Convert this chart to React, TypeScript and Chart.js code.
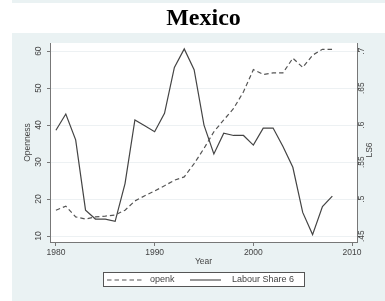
import React, { useEffect, useRef } from "react";
import { Chart, registerables } from "chart.js";

Chart.register(...registerables);

const years = [1980, 1981, 1982, 1983, 1984, 1985, 1986, 1987, 1988, 1989, 1990, 1991, 1992, 1993, 1994, 1995, 1996, 1997, 1998, 1999, 2000, 2001, 2002, 2003, 2004, 2005, 2006, 2007, 2008];
const openk = [17.0, 18.1, 15.2, 14.6, 15.2, 15.4, 15.7, 17.0, 19.5, 20.9, 22.2, 23.6, 25.1, 26.0, 29.6, 33.7, 38.2, 41.4, 44.5, 49.0, 55.0, 53.7, 54.1, 54.1, 58.1, 55.6, 58.9, 60.5, 60.5];
const labourShare6 = [0.593, 0.615, 0.58, 0.485, 0.473, 0.473, 0.47, 0.521, 0.607, 0.599, 0.591, 0.616, 0.678, 0.703, 0.675, 0.6, 0.561, 0.589, 0.586, 0.586, 0.573, 0.596, 0.596, 0.571, 0.543, 0.482, 0.452, 0.49, 0.504];
const xTicks = [1980, 1990, 2000, 2010];
const leftTicks = [10, 20, 30, 40, 50, 60];
const rightTicks = [0.45, 0.5, 0.55, 0.6, 0.65, 0.7];
const rightTickLabels = [".45", ".5", ".55", ".6", ".65", ".7"];
const seriesNames = ["openk", "Labour Share 6"];

const BG = "#eaf2f3";
const AXIS = "#777777";
const TXT = "#444444";
const SANS = '"Liberation Sans", Arial, sans-serif';

const bgPlugin = {
  id: "bgPlugin",
  beforeDraw(chart: any) {
    const { ctx, width, height, chartArea } = chart;
    ctx.save();
    ctx.fillStyle = "#ffffff";
    ctx.fillRect(0, 0, width, height);
    ctx.fillStyle = BG;
    ctx.fillRect(12, 0, width - 12, 3);
    ctx.fillRect(12, 33, width - 12, height - 33);
    ctx.fillStyle = "#ffffff";
    ctx.fillRect(chartArea.left, chartArea.top, chartArea.right - chartArea.left, chartArea.bottom - chartArea.top);
    ctx.restore();
  },
  afterDraw(chart: any) {
    const { ctx } = chart;
    ctx.save();
    // right axis title
    ctx.fillStyle = TXT;
    ctx.font = `8.5px ${SANS}`;
    ctx.translate(370, 150);
    ctx.rotate(-Math.PI / 2);
    ctx.textAlign = "center";
    ctx.textBaseline = "middle";
    ctx.fillText("LS6", 0, 0);
    ctx.restore();

    // legend
    ctx.save();
    ctx.fillStyle = "#ffffff";
    ctx.fillRect(103, 272, 202, 15);
    ctx.strokeStyle = "#555555";
    ctx.lineWidth = 1;
    ctx.strokeRect(103.5, 272.5, 201, 14);
    const ly = 280;
    ctx.strokeStyle = "#555555";
    ctx.lineWidth = 1.1;
    ctx.setLineDash([4.5, 3]);
    ctx.beginPath();
    ctx.moveTo(107, ly);
    ctx.lineTo(144, ly);
    ctx.stroke();
    ctx.setLineDash([]);
    ctx.strokeStyle = "#444444";
    ctx.beginPath();
    ctx.moveTo(190, ly);
    ctx.lineTo(221, ly);
    ctx.stroke();
    ctx.fillStyle = TXT;
    ctx.font = `9px ${SANS}`;
    ctx.textBaseline = "middle";
    ctx.textAlign = "left";
    ctx.fillText(seriesNames[0], 150, ly);
    ctx.fillText(seriesNames[1], 232, ly);
    ctx.restore();
  },
};

export default function App() {
  const ref = useRef<HTMLCanvasElement | null>(null);
  useEffect(() => {
    if (!ref.current) return;
    const chart = new Chart(ref.current, {
      type: "line",
      data: {
        datasets: [
          {
            label: seriesNames[0],
            data: years.map((y, i) => ({ x: y, y: openk[i] })),
            yAxisID: "y",
            borderColor: "#555555",
            borderWidth: 1.2,
            borderDash: [4.5, 3],
            pointRadius: 0,
            tension: 0,
          },
          {
            label: seriesNames[1],
            data: years.map((y, i) => ({ x: y, y: labourShare6[i] })),
            yAxisID: "y2",
            borderColor: "#444444",
            borderWidth: 1.2,
            pointRadius: 0,
            tension: 0,
          },
        ],
      },
      options: {
        animation: false,
        responsive: false,
        devicePixelRatio: 1,
        layout: { padding: { left: 23, right: 0, top: 0, bottom: 34 } },
        plugins: {
          legend: { display: false },
          tooltip: { enabled: false },
          title: {
            display: true,
            text: "Mexico",
            fullSize: false,
            color: "#000000",
            font: { family: '"Liberation Serif", "Times New Roman", serif', size: 24, weight: "bold" },
            padding: { top: 3.9, bottom: 10.3 },
          },
        },
        scales: {
          x: {
            type: "linear",
            min: 1979.4,
            max: 2010.5,
            afterBuildTicks: (s: any) => {
              s.ticks = xTicks.map((v) => ({ value: v }));
            },
            afterFit: (s: any) => {
              s.height = 25;
            },
            ticks: {
              color: TXT,
              font: { family: SANS, size: 8.5 },
              padding: 2,
              maxRotation: 0,
              callback: (v: any) => String(v),
            },
            grid: { drawOnChartArea: false, drawTicks: true, tickLength: 4, tickColor: AXIS },
            border: { display: true, color: AXIS, width: 1 },
            title: { display: true, text: "Year", color: TXT, font: { family: SANS, size: 8.5 }, padding: { top: 0, bottom: 0 } },
          },
          y: {
            type: "linear",
            position: "left",
            min: 8.4,
            max: 62.2,
            afterBuildTicks: (s: any) => {
              s.ticks = leftTicks.map((v) => ({ value: v }));
            },
            afterFit: (s: any) => {
              s.width = 27;
            },
            ticks: {
              color: TXT,
              font: { family: SANS, size: 8.5 },
              minRotation: 90,
              maxRotation: 90,
              crossAlign: "center",
              padding: 3.3,
              callback: (v: any) => String(v),
            },
            grid: { drawOnChartArea: true, color: "#edf1f3", drawTicks: true, tickLength: 3, tickColor: AXIS },
            border: { display: true, color: AXIS, width: 1 },
            title: { display: true, text: "Openness", color: TXT, font: { family: SANS, size: 8.5 }, padding: { top: 0, bottom: 0 } },
          },
          y2: {
            type: "linear",
            position: "right",
            min: 0.442,
            max: 0.711,
            afterBuildTicks: (s: any) => {
              s.ticks = rightTicks.map((v) => ({ value: v }));
            },
            afterFit: (s: any) => {
              s.width = 28;
            },
            ticks: {
              color: TXT,
              font: { family: SANS, size: 8.5 },
              minRotation: 90,
              maxRotation: 90,
              crossAlign: "center",
              padding: -4.4,
              callback: (v: any) => {
                const i = rightTicks.findIndex((t) => Math.abs(t - v) < 1e-6);
                return i >= 0 ? rightTickLabels[i] : "";
              },
            },
            grid: { drawOnChartArea: false, drawTicks: true, tickLength: 3, tickColor: AXIS },
            border: { display: true, color: AXIS, width: 1 },
          },
        },
      },
      plugins: [bgPlugin],
    } as any);
    return () => chart.destroy();
  }, []);
  return (
    <div style={{ position: "absolute", left: 0, top: 0, width: 385, height: 301 }}>
      <canvas ref={ref} width={385} height={301} style={{ width: 385, height: 301, display: "block" }} />
    </div>
  );
}
